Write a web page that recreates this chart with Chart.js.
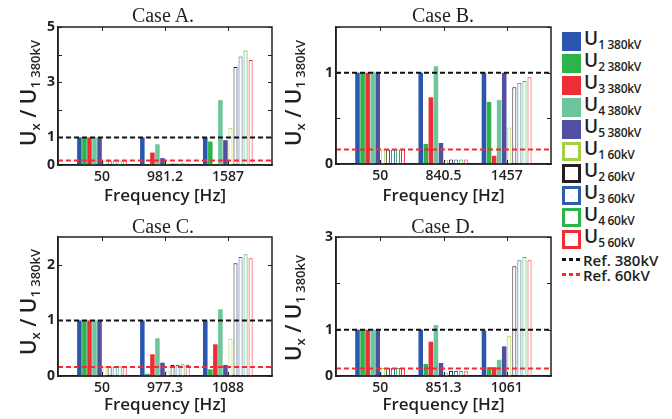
<!DOCTYPE html>
<html>
<head>
<meta charset="utf-8">
<script src="https://cdn.jsdelivr.net/npm/chart.js@4.4.1/dist/chart.umd.min.js"></script>
<style>
  body { margin: 0; background: #fff; }
  #page { position: relative; width: 672px; height: 419px; overflow: hidden; font-family: "Open Sans", sans-serif; color: #231f20; }
  canvas { position: absolute; }
  .title { position: absolute; font-family: "Liberation Serif", serif; font-size: 20px; transform: translate(-50%, -50%); white-space: nowrap; }
  .ylab { position: absolute; font-size: 21px; font-weight: 600; white-space: nowrap; transform: translate(-50%, -50%) rotate(-90deg); }
  .ylab sub { font-size: 13px; vertical-align: -4px; }
  #legend { position: absolute; left: 562px; top: 30px; }
  .row { position: relative; height: 22px; display: flex; align-items: center; }
  .sw { width: 19px; height: 19px; box-sizing: border-box; margin-right: 3px; }
  .lt { font-size: 19px; font-weight: 600; line-height: 18px; white-space: nowrap; }
  .lt sub { font-size: 12px; vertical-align: -4px; letter-spacing: -0.3px; }
  .dash { width: 18px; height: 3px; margin-right: 3px; }
  .rt { font-size: 15px; font-weight: 600; white-space: nowrap; }
</style>
</head>
<body>
<div id="page">
  <canvas id="chartA" width="280" height="210" style="left:0;top:0"></canvas>
  <canvas id="chartB" width="280" height="210" style="left:278px;top:0"></canvas>
  <canvas id="chartC" width="280" height="209" style="left:0;top:210px"></canvas>
  <canvas id="chartD" width="280" height="209" style="left:278px;top:210px"></canvas>

  <div class="title" style="left:163px;top:15px">Case A.</div>
  <div class="title" style="left:443px;top:15px">Case B.</div>
  <div class="title" style="left:163px;top:226px">Case C.</div>
  <div class="title" style="left:443px;top:226px">Case D.</div>

  <div class="ylab" style="left:29px;top:93px">U<sub>x</sub> / U<sub>1 380kV</sub></div>
  <div class="ylab" style="left:294px;top:93px">U<sub>x</sub> / U<sub>1 380kV</sub></div>
  <div class="ylab" style="left:29px;top:302px">U<sub>x</sub> / U<sub>1 380kV</sub></div>
  <div class="ylab" style="left:294px;top:308px">U<sub>x</sub> / U<sub>1 380kV</sub></div>

  <div id="legend"></div>
</div>

<script>
// frequency labels of each case
const freqA = ["50", "981.2", "1587"];
const freqB = ["50", "840.5", "1457"];
const freqC = ["50", "977.3", "1088"];
const freqD = ["50", "851.3", "1061"];

// rows: U1..U5, columns: the three frequencies of the case
const caseA380 = [
  [1.00, 1.00, 1.00],
  [1.00, 0.02, 0.85],
  [1.00, 0.45, 0.03],
  [1.00, 0.75, 2.35],
  [1.00, 0.25, 0.90]
];
const caseA60 = [
  [0.16, 0.05, 1.35],
  [0.16, 0.05, 3.55],
  [0.16, 0.05, 3.93],
  [0.16, 0.06, 4.15],
  [0.16, 0.05, 3.80]
];

const caseB380 = [
  [1.00, 1.00, 1.00],
  [1.00, 0.22, 0.68],
  [1.00, 0.73, 0.09],
  [1.01, 1.07, 0.70],
  [1.00, 0.23, 1.00]
];
const caseB60 = [
  [0.16, 0.04, 0.40],
  [0.16, 0.05, 0.84],
  [0.16, 0.05, 0.89],
  [0.16, 0.05, 0.91],
  [0.16, 0.05, 0.95]
];

const caseC380 = [
  [1.00, 1.00, 1.00],
  [1.00, 0.04, 0.12],
  [1.00, 0.39, 0.57],
  [1.00, 0.68, 1.20],
  [1.00, 0.24, 0.20]
];
const caseC60 = [
  [0.17, 0.10, 0.67],
  [0.17, 0.20, 2.03],
  [0.17, 0.20, 2.14],
  [0.17, 0.21, 2.19],
  [0.17, 0.20, 2.12]
];

const caseD380 = [
  [1.00, 1.00, 0.98],
  [1.00, 0.26, 0.19],
  [1.00, 0.74, 0.19],
  [1.00, 1.10, 0.35],
  [1.00, 0.28, 0.64]
];
const caseD60 = [
  [0.17, 0.07, 0.87],
  [0.17, 0.11, 2.37],
  [0.17, 0.11, 2.50],
  [0.17, 0.11, 2.57],
  [0.17, 0.10, 2.50]
];

// y ticks and which of them carry a label
const yTicksA = [0, 1, 2, 3, 4, 5];
const yLabelsA = [0, 1, 3, 5];
const yTicksB = [0, 0.5, 1, 1.5];
const yLabelsB = [0, 1];
const yTicksC = [0, 1, 2];
const yLabelsC = [0, 1, 2];
const yTicksD = [0, 1, 2, 3];
const yLabelsD = [0, 1, 3];

const ref380 = 1;
const ref60 = 0.16;

const fillColors = ["#2a56ad", "#2db34a", "#ee2d36", "#6dc69b", "#5150a0"];
const edgeColors = ["#a6cf44", "#231f20", "#2d5fb0", "#2db34a", "#ee2d36"];
const ink = "#231f20";

const X_MIN = 0.3;
const X_MAX = 3.7;

const frameTicks = {
  id: "frameTicks",
  afterDraw(chart) {
    const { ctx, chartArea: a, scales: { x, y } } = chart;
    ctx.save();
    ctx.strokeStyle = ink;
    ctx.lineWidth = 1;
    ctx.beginPath();
    x.ticks.forEach(t => {
      const px = Math.round(x.getPixelForValue(t.value)) + 0.5;
      ctx.moveTo(px, a.top); ctx.lineTo(px, a.top + 4);
      ctx.moveTo(px, a.bottom); ctx.lineTo(px, a.bottom - 4);
    });
    y.ticks.forEach(t => {
      const py = Math.round(y.getPixelForValue(t.value)) + 0.5;
      ctx.moveTo(a.left, py); ctx.lineTo(a.left + 4, py);
      ctx.moveTo(a.right, py); ctx.lineTo(a.right - 4, py);
    });
    ctx.stroke();
    ctx.lineWidth = 1.5;
    ctx.strokeRect(a.left, a.top, a.right - a.left, a.bottom - a.top);
    ctx.restore();
  }
};

function makeDatasets(v380, v60) {
  const pts = vals => vals.map((y, i) => ({ x: i + 1, y: y }));
  const ds = [];
  v380.forEach((vals, k) => ds.push({
    type: "bar",
    label: "U" + (k + 1) + " 380kV",
    data: pts(vals),
    backgroundColor: fillColors[k],
    borderWidth: 0,
    barPercentage: 0.9,
    categoryPercentage: 0.8
  }));
  v60.forEach((vals, k) => ds.push({
    type: "bar",
    label: "U" + (k + 1) + " 60kV",
    data: pts(vals),
    backgroundColor: "#ffffff",
    borderColor: edgeColors[k],
    borderWidth: 1,
    borderSkipped: false,
    barPercentage: 0.8,
    categoryPercentage: 0.8
  }));
  ds.push({
    type: "line",
    label: "Ref. 380kV",
    data: [{ x: X_MIN, y: ref380 }, { x: X_MAX, y: ref380 }],
    borderColor: "#111111",
    borderWidth: 2,
    borderDash: [5, 3],
    pointRadius: 0,
    order: -1
  });
  ds.push({
    type: "line",
    label: "Ref. 60kV",
    data: [{ x: X_MIN, y: ref60 }, { x: X_MAX, y: ref60 }],
    borderColor: "#ee2d36",
    borderWidth: 2,
    borderDash: [5, 3],
    pointRadius: 0,
    order: -1
  });
  return ds;
}

function drawCase(id, freq, v380, v60, yMax, yTicks, yLabels, padRight, xHeight) {
  const ctx = document.getElementById(id).getContext("2d");
  return new Chart(ctx, {
    type: "bar",
    data: { datasets: makeDatasets(v380, v60) },
    options: {
      responsive: false,
      animation: false,
      layout: { padding: { top: 27, right: padRight, left: 0, bottom: 0 } },
      plugins: { legend: { display: false }, tooltip: { enabled: false } },
      scales: {
        x: {
          type: "linear",
          offset: false,
          min: X_MIN,
          max: X_MAX,
          afterBuildTicks: s => { s.ticks = freq.map((f, i) => ({ value: i + 1 })); },
          afterFit: s => { s.height = xHeight; },
          ticks: {
            callback: v => freq[Math.round(v) - 1],
            font: { family: "Open Sans", size: 14, weight: "600" },
            color: ink,
            padding: 4,
            maxRotation: 0,
            autoSkip: false
          },
          grid: { display: false, drawTicks: false },
          border: { color: ink, width: 1.5 },
          title: {
            display: true,
            text: "Frequency [Hz]",
            font: { family: "Open Sans", size: 17, weight: "600", lineHeight: 1 },
            color: ink,
            padding: { top: 0, bottom: 5 }
          }
        },
        y: {
          min: 0,
          max: yMax,
          afterBuildTicks: s => { s.ticks = yTicks.map(v => ({ value: v })); },
          afterFit: s => { s.width = 58; },
          ticks: {
            callback: v => yLabels.includes(v) ? String(v) : "",
            font: { family: "Open Sans", size: 14, weight: "700" },
            color: ink,
            padding: 3
          },
          grid: { display: false, drawTicks: false },
          border: { color: ink, width: 1.5 }
        }
      }
    },
    plugins: [frameTicks]
  });
}

function buildLegend() {
  const box = document.getElementById("legend");
  let html = "";
  fillColors.forEach((c, k) => {
    html += '<div class="row"><div class="sw" style="background:' + c + '"></div>' +
      '<span class="lt">U<sub>' + (k + 1) + ' 380kV</sub></span></div>';
  });
  edgeColors.forEach((c, k) => {
    html += '<div class="row"><div class="sw" style="border:3px solid ' + c + '"></div>' +
      '<span class="lt">U<sub>' + (k + 1) + ' 60kV</sub></span></div>';
  });
  html += '<div class="row" style="height:15px;margin-top:2px"><div class="dash" style="background:repeating-linear-gradient(90deg,#111 0 4px,transparent 4px 7px)"></div><span class="rt">Ref. 380kV</span></div>';
  html += '<div class="row" style="height:15px"><div class="dash" style="background:repeating-linear-gradient(90deg,#ee2d36 0 4px,transparent 4px 7px)"></div><span class="rt">Ref. 60kV</span></div>';
  box.innerHTML = html;
}

window.onload = function () {
  drawCase("chartA", freqA, caseA380, caseA60, 5, yTicksA, yLabelsA, 8, 45);
  drawCase("chartB", freqB, caseB380, caseB60, 1.5, yTicksB, yLabelsB, 7, 46);
  drawCase("chartC", freqC, caseC380, caseC60, 2.5, yTicksC, yLabelsC, 8, 43);
  drawCase("chartD", freqD, caseD380, caseD60, 3, yTicksD, yLabelsD, 7, 43);
  buildLegend();
};
</script>
</body>
</html>
